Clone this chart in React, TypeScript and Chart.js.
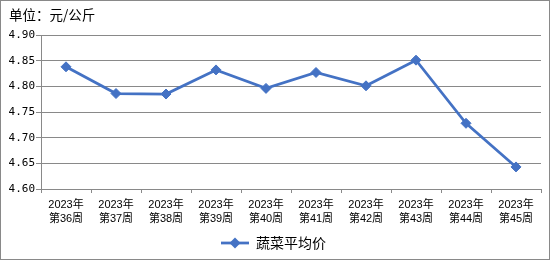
import React, { useEffect, useRef } from "react";
import { Chart, registerables } from "chart.js";

Chart.register(...registerables);

const unitLabel = "单位：元/公斤";
const seriesName = "蔬菜平均价";
const yearLabels = ["2023年", "2023年", "2023年", "2023年", "2023年", "2023年", "2023年", "2023年", "2023年", "2023年"];
const weekLabels = ["第36周", "第37周", "第38周", "第39周", "第40周", "第41周", "第42周", "第43周", "第44周", "第45周"];
const vegPrice = [4.838, 4.786, 4.785, 4.832, 4.796, 4.827, 4.801, 4.851, 4.728, 4.643];
const yMin = 4.6;
const yMax = 4.9;
const yStep = 0.05;

const LINE_COLOR = "#4472C4";
const GRID_COLOR = "#898989";

function makeLegendImage(): HTMLCanvasElement {
  const c = document.createElement("canvas");
  c.width = 34;
  c.height = 12;
  const ctx = c.getContext("2d")!;
  ctx.strokeStyle = LINE_COLOR;
  ctx.lineWidth = 2.75;
  ctx.beginPath();
  ctx.moveTo(6, 6);
  ctx.lineTo(34, 6);
  ctx.stroke();
  ctx.fillStyle = LINE_COLOR;
  ctx.beginPath();
  ctx.moveTo(20, 0.5);
  ctx.lineTo(25.5, 6);
  ctx.lineTo(20, 11.5);
  ctx.lineTo(14.5, 6);
  ctx.closePath();
  ctx.fill();
  return c;
}

export default function App() {
  const ref = useRef<HTMLCanvasElement | null>(null);

  useEffect(() => {
    document.body.style.margin = "0";
    const canvas = ref.current!;
    const legendImg = makeLegendImage();

    const frame = {
      id: "frameAndUnit",
      afterDraw(chart: any) {
        const ctx = chart.ctx;
        ctx.save();
        ctx.strokeStyle = GRID_COLOR;
        ctx.lineWidth = 1;
        ctx.strokeRect(0.5, 0.5, chart.width - 1, chart.height - 1);
        ctx.fillStyle = "#000";
        ctx.font = "13.5px 'Noto Sans CJK SC'";
        ctx.textBaseline = "middle";
        ctx.textAlign = "left";
        ctx.fillText(unitLabel, 9, 15);
        ctx.restore();
      },
    };

    const chart = new Chart(canvas, {
      type: "line",
      data: {
        labels: yearLabels.map((y, i) => [y, weekLabels[i]]),
        datasets: [
          {
            label: seriesName,
            data: vegPrice,
            borderColor: LINE_COLOR,
            backgroundColor: LINE_COLOR,
            borderWidth: 2.75,
            pointStyle: "rectRot",
            pointRadius: 5,
            pointBorderWidth: 1,
            pointBackgroundColor: LINE_COLOR,
            pointBorderColor: LINE_COLOR,
            tension: 0,
          },
        ],
      },
      options: {
        responsive: false,
        animation: false,
        devicePixelRatio: 1,
        layout: { padding: { top: 35, right: 9, left: 0, bottom: 0 } },
        plugins: {
          title: { display: false },
          tooltip: { enabled: false },
          legend: {
            display: true,
            position: "bottom",
            labels: {
              usePointStyle: true,
              pointStyleWidth: 34,
              padding: 0,
              color: "#000",
              font: { size: 14, family: "'Noto Sans CJK SC'" },
              generateLabels: () => [
                {
                  text: seriesName,
                  pointStyle: legendImg as any,
                  fillStyle: LINE_COLOR,
                  strokeStyle: LINE_COLOR,
                  lineWidth: 0,
                  hidden: false,
                  datasetIndex: 0,
                },
              ],
            },
          },
        },
        scales: {
          x: {
            type: "category",
            offset: true,
            afterFit: (s: any) => {
              s.height = 47;
            },
            grid: {
              display: true,
              offset: true,
              drawOnChartArea: false,
              drawTicks: true,
              tickLength: 4,
              color: GRID_COLOR,
            },
            border: { display: true, color: GRID_COLOR, width: 1 },
            ticks: {
              color: "#000",
              padding: 5,
              maxRotation: 0,
              autoSkip: false,
              font: { size: 11, family: "'Liberation Sans', 'Noto Sans CJK SC'", lineHeight: 1.3 },
            },
          },
          y: {
            min: yMin,
            max: yMax,
            afterFit: (s: any) => {
              s.width = 41;
            },
            grid: {
              color: GRID_COLOR,
              drawTicks: true,
              tickLength: 5,
            },
            border: { display: true, color: GRID_COLOR, width: 1 },
            ticks: {
              stepSize: yStep,
              color: "#000",
              padding: 1,
              font: { size: 11, family: "'DejaVu Sans Mono'" },
              callback: (v: any) => Number(v).toFixed(2),
            },
          },
        },
      },
      plugins: [frame],
    });

    return () => chart.destroy();
  }, []);

  return <canvas ref={ref} width={550} height={260} style={{ display: "block" }} />;
}
